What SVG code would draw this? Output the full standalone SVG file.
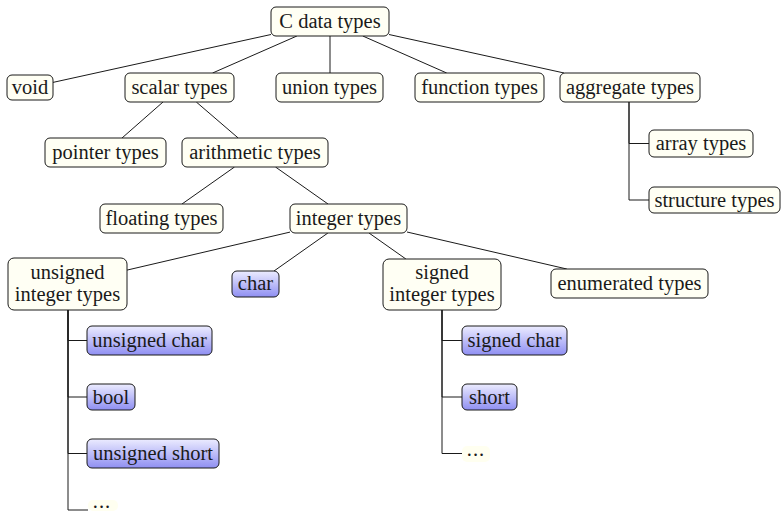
<svg xmlns="http://www.w3.org/2000/svg" width="783" height="511" viewBox="0 0 783 511">
<defs>
<linearGradient id="blue" x1="0" y1="0" x2="0" y2="1">
<stop offset="0" stop-color="#ececff"/>
<stop offset="1" stop-color="#8f8ff2"/>
</linearGradient>
<style>
.n{fill:#fffff4;stroke:#1a1a1a;stroke-width:1}
.b{fill:url(#blue);stroke:#1a1a1a;stroke-width:1}
.d{fill:#fffff0;stroke:none}
.t{font-family:'Liberation Serif','Times New Roman',serif;font-size:20.5px;fill:#1a1a1a;text-anchor:middle}
.e line,.e path{stroke:#1a1a1a;stroke-width:1;fill:none}
</style>
</defs>
<rect width="783" height="511" fill="#ffffff"/>
<g class="e" id="connectors">
<line x1="271" y1="34.5" x2="53" y2="82.4"/>
<line x1="296.9" y1="36" x2="212.6" y2="73"/>
<line x1="330" y1="36" x2="330" y2="73"/>
<line x1="362.8" y1="36" x2="446.7" y2="73"/>
<line x1="389" y1="34.5" x2="564.1" y2="73"/>
<line x1="163" y1="102" x2="122" y2="138"/>
<line x1="196.3" y1="102" x2="238.2" y2="138"/>
<line x1="234.5" y1="167" x2="182" y2="204"/>
<line x1="275.5" y1="167" x2="328" y2="204"/>
<line x1="290" y1="232.1" x2="127" y2="270.1"/>
<line x1="327.9" y1="233" x2="274" y2="271"/>
<line x1="369" y1="233" x2="405.9" y2="259"/>
<line x1="407" y1="232" x2="566.8" y2="269"/>
<path d="M629,102 V143.5 H649"/>
<path d="M629,102 V200 H649"/>
<path d="M68,310 V340.5 H87"/>
<path d="M68,310 V397 H87"/>
<path d="M68,310 V453.5 H87"/>
<path d="M68,310 V510 H88"/>
<path d="M442,310 V340.5 H462"/>
<path d="M442,310 V397 H462"/>
<path d="M442,310 V453.5 H462"/>
</g>
<g id="c-data-types"><rect class="n" x="271" y="7" width="118" height="29" rx="5"/><text class="t" x="330" y="28">C data types</text></g>
<g id="void"><rect class="n" x="7" y="75" width="46" height="25" rx="5"/><text class="t" x="30" y="93.5">void</text></g>
<g id="scalar-types"><rect class="n" x="125" y="73" width="109" height="29" rx="5"/><text class="t" x="179.5" y="94">scalar types</text></g>
<g id="union-types"><rect class="n" x="276" y="73" width="107" height="29" rx="5"/><text class="t" x="329.5" y="94">union types</text></g>
<g id="function-types"><rect class="n" x="415" y="73" width="129" height="29" rx="5"/><text class="t" x="479.5" y="94">function types</text></g>
<g id="aggregate-types"><rect class="n" x="560" y="73" width="140" height="29" rx="5"/><text class="t" x="630" y="94">aggregate types</text></g>
<g id="array-types"><rect class="n" x="649" y="130" width="104" height="27" rx="5"/><text class="t" x="701" y="150">array types</text></g>
<g id="structure-types"><rect class="n" x="649" y="187" width="131" height="26" rx="5"/><text class="t" x="714.5" y="206.5">structure types</text></g>
<g id="pointer-types"><rect class="n" x="45" y="138" width="121" height="29" rx="5"/><text class="t" x="105.5" y="159">pointer types</text></g>
<g id="arithmetic-types"><rect class="n" x="182" y="138" width="146" height="29" rx="5"/><text class="t" x="255" y="159">arithmetic types</text></g>
<g id="floating-types"><rect class="n" x="100" y="204" width="123" height="29" rx="5"/><text class="t" x="161.5" y="225">floating types</text></g>
<g id="integer-types"><rect class="n" x="290" y="204" width="117" height="29" rx="5"/><text class="t" x="348.5" y="225">integer types</text></g>
<g id="unsigned-integer-types"><rect class="n" x="8" y="258" width="119" height="52" rx="6"/><text class="t" x="67.5" y="279">unsigned</text><text class="t" x="67.5" y="301">integer types</text></g>
<g id="char"><rect class="b" x="232" y="271" width="47" height="26" rx="5"/><text class="t" x="255.5" y="290">char</text></g>
<g id="signed-integer-types"><rect class="n" x="383" y="259" width="118" height="51" rx="6"/><text class="t" x="442" y="279">signed</text><text class="t" x="442" y="301">integer types</text></g>
<g id="enumerated-types"><rect class="n" x="551" y="269" width="157" height="29" rx="5"/><text class="t" x="629.5" y="290">enumerated types</text></g>
<g id="unsigned-char"><rect class="b" x="87" y="326" width="125" height="29" rx="5"/><text class="t" x="149.5" y="347">unsigned char</text></g>
<g id="bool"><rect class="b" x="87" y="384" width="48" height="26" rx="5"/><text class="t" x="111" y="403.5">bool</text></g>
<g id="unsigned-short"><rect class="b" x="87" y="439" width="132" height="29" rx="5"/><text class="t" x="153" y="460">unsigned short</text></g>
<g id="unsigned-more"><rect class="d" x="88" y="500" width="30" height="11" rx="5"/><text class="t" x="102" y="508" style="letter-spacing:1px">...</text></g>
<g id="signed-char"><rect class="b" x="462" y="326" width="105" height="29" rx="5"/><text class="t" x="514.5" y="347">signed char</text></g>
<g id="short"><rect class="b" x="462" y="384" width="55" height="26" rx="5"/><text class="t" x="489.5" y="403.5">short</text></g>
<g id="signed-more"><rect class="d" x="462" y="446" width="28" height="16" rx="5"/><text class="t" x="476" y="456" style="letter-spacing:1px">...</text></g>
</svg>
